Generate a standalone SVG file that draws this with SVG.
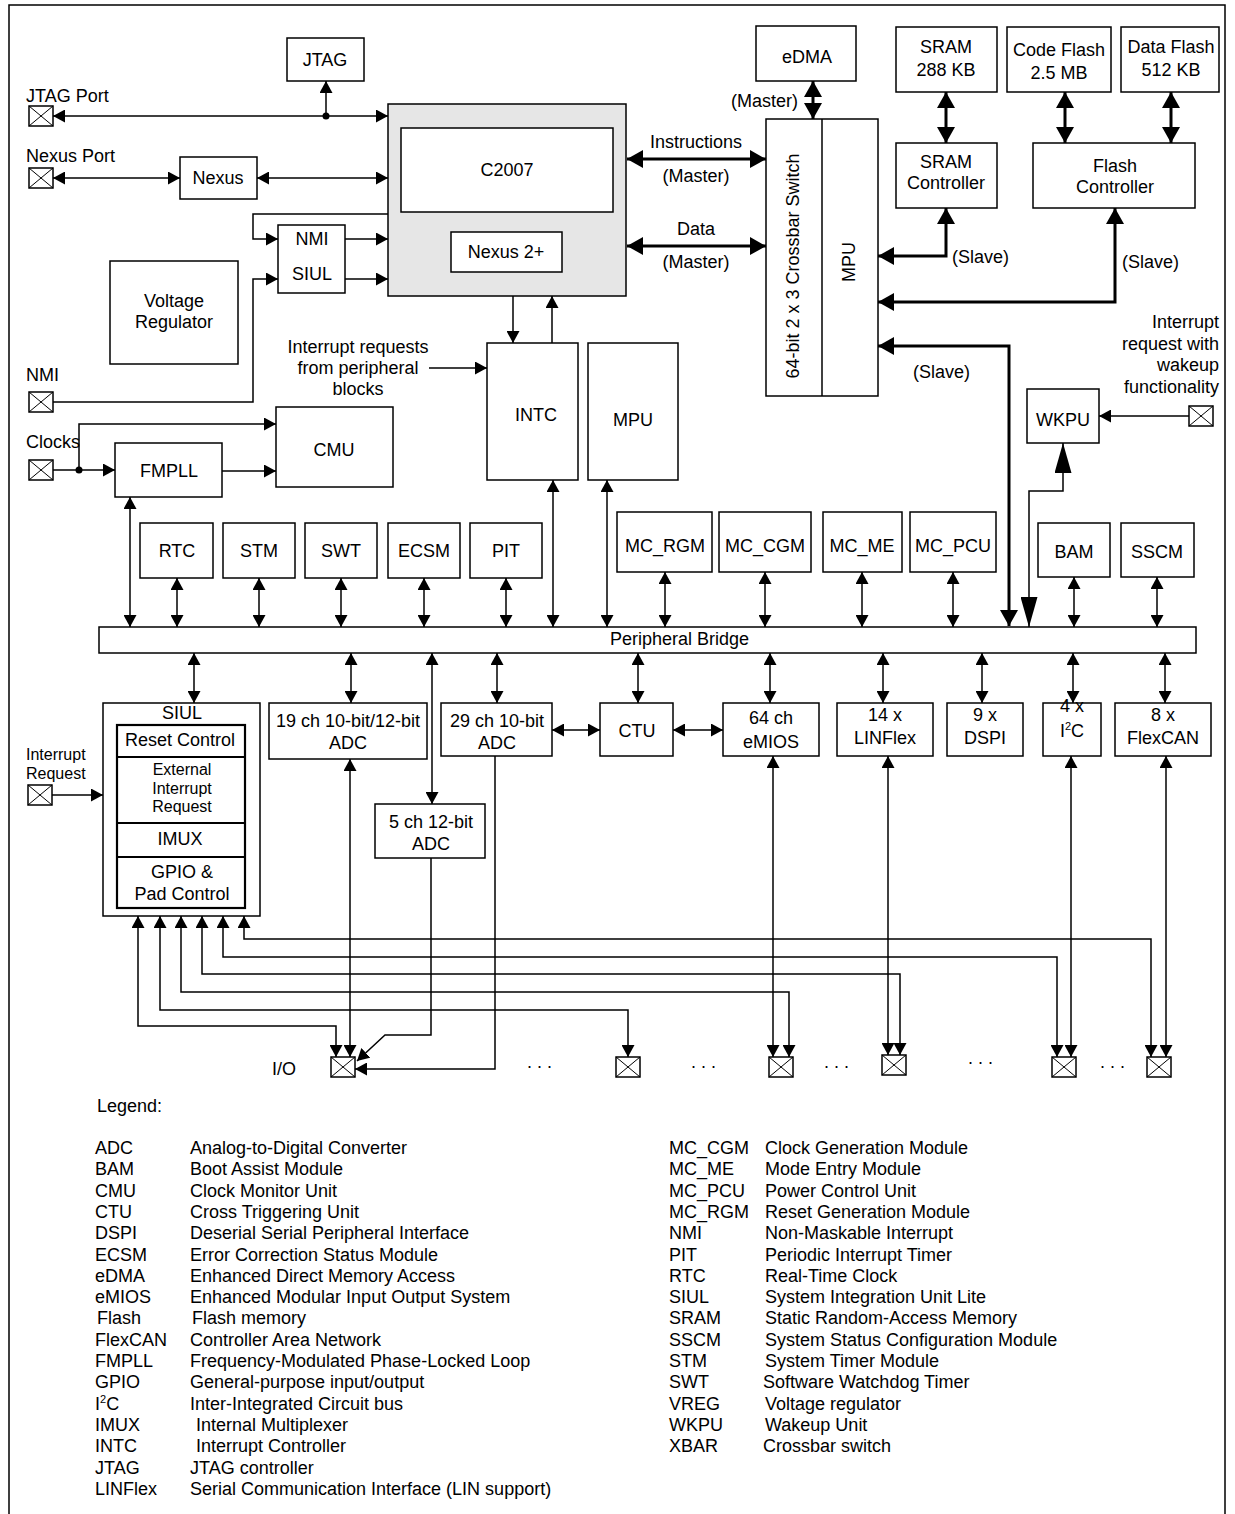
<svg xmlns="http://www.w3.org/2000/svg" xmlns:xlink="http://www.w3.org/1999/xlink" width="1235" height="1514" viewBox="0 0 1235 1514">
<style>
text{font-family:"Liberation Sans",Arial,sans-serif;font-size:18px;fill:#000}
.c{text-anchor:middle}
.e{text-anchor:end}
.sm{font-size:16px}
.box{fill:#fff;stroke:#000;stroke-width:1.5}
.core{fill:#e6e6e6;stroke:#000;stroke-width:1.5}
.ln{fill:none;stroke:#000;stroke-width:1.5}
.th{fill:none;stroke:#000;stroke-width:3}
.ab{marker-start:url(#a);marker-end:url(#a)}
.ae{marker-end:url(#a)}
.tb{marker-start:url(#t);marker-end:url(#t)}
.bb{marker-start:url(#b);marker-end:url(#b)}
</style>
<defs>
<marker id="a" viewBox="0 0 12 13" refX="12" refY="6.5" markerWidth="12" markerHeight="13" markerUnits="userSpaceOnUse" orient="auto-start-reverse"><path d="M0,0L12,6.5L0,13z"/></marker>
<marker id="t" viewBox="0 0 16 18" refX="16" refY="9" markerWidth="16" markerHeight="18" markerUnits="userSpaceOnUse" orient="auto-start-reverse"><path d="M0,0L16,9L0,18z"/></marker>
<marker id="b" viewBox="0 0 30 17" refX="30" refY="8.5" markerWidth="30" markerHeight="17" markerUnits="userSpaceOnUse" orient="auto-start-reverse"><path d="M0,0L30,8.5L0,17z"/></marker>
<g id="pin"><rect width="24" height="20" fill="#fff" stroke="#000" stroke-width="1.5"/><path d="M0,0L24,20M24,0L0,20" stroke="#000" stroke-width="1"/></g>
</defs>
<rect width="1235" height="1514" fill="#fff"/>
<path d="M9,1514V5H1225V1514" fill="none" stroke="#000" stroke-width="1.5"/>

<g id="connectors">
<path class="ln ab" d="M53,116H388"/>
<path class="ln ae" d="M326,116V81"/>
<circle cx="326" cy="116" r="3.5"/>
<path class="ln ab" d="M53,178H180"/>
<path class="ln ab" d="M257,178H388"/>
<path class="ln ae" d="M388,214H253V239H278"/>
<path class="ln ae" d="M53,402H253V279H278"/>
<path class="ln ae" d="M345,239H388"/>
<path class="ln ae" d="M345,279H388"/>
<path class="th tb" d="M627,159H766"/>
<path class="th tb" d="M627,246H766"/>
<path class="th tb" d="M813,81V119"/>
<path class="th tb" d="M946,92V143"/>
<path class="th tb" d="M1065,92V143"/>
<path class="th tb" d="M1171,92V143"/>
<path class="th tb" d="M946,208V256H878"/>
<path class="th tb" d="M1115,208V302H878"/>
<path class="th tb" d="M1009,626V346H878"/>
<path class="ln bb" d="M1029,627V491H1063V443"/>
<path class="ln ae" d="M1189,416H1099"/>
<path class="ln ae" d="M513,296V343"/>
<path class="ln ae" d="M552,343V296"/>
<path class="ln ae" d="M429,368H487"/>
<path class="ln ab" d="M553,480V627"/>
<path class="ln ab" d="M607,480V627"/>
<path class="ln ae" d="M53,470H115"/>
<circle cx="79" cy="470" r="3.5"/>
<path class="ln ae" d="M79,470V424H276"/>
<path class="ln ae" d="M222,471H276"/>
<path class="ln ab" d="M130,497V627"/>
<path class="ln ab" d="M177,578V627"/>
<path class="ln ab" d="M259,578V627"/>
<path class="ln ab" d="M341,578V627"/>
<path class="ln ab" d="M424,578V627"/>
<path class="ln ab" d="M506,578V627"/>
<path class="ln ab" d="M665,572V627"/>
<path class="ln ab" d="M765,572V627"/>
<path class="ln ab" d="M862,572V627"/>
<path class="ln ab" d="M953,572V627"/>
<path class="ln ab" d="M1074,577V627"/>
<path class="ln ab" d="M1157,577V627"/>
<path class="ln ab" d="M194,653V703"/>
<path class="ln ab" d="M351,653V703"/>
<path class="ln ab" d="M432,653V804"/>
<path class="ln ab" d="M497,653V703"/>
<path class="ln ab" d="M638,653V703"/>
<path class="ln ab" d="M770,653V703"/>
<path class="ln ab" d="M883,653V703"/>
<path class="ln ab" d="M982,653V703"/>
<path class="ln ab" d="M1073,653V703"/>
<path class="ln ab" d="M1165,653V703"/>
<path class="ln ab" d="M552,730H600"/>
<path class="ln ab" d="M673,730H723"/>
<path class="ln ae" d="M52,795H103"/>
<path class="ln ab" d="M138,916V1026H336V1057"/>
<path class="ln ab" d="M160,916V1010H628V1057"/>
<path class="ln ab" d="M181,916V992H789V1057"/>
<path class="ln ab" d="M202,916V974H900V1055"/>
<path class="ln ab" d="M223,916V957H1057V1057"/>
<path class="ln ab" d="M244,916V939H1151V1057"/>
<path class="ln ab" d="M350,759V1057"/>
<path class="ln ae" d="M431,858V1035H385L357,1061"/>
<path class="ln ae" d="M495,756V1069H355"/>
<path class="ln ab" d="M773,756V1057"/>
<path class="ln ab" d="M888,756V1055"/>
<path class="ln ab" d="M1071,756V1057"/>
<path class="ln ab" d="M1166,756V1057"/>
</g>

<g id="pins">
<g id="pin-jtag"><use xlink:href="#pin" x="29" y="106"/><text x="26" y="102">JTAG Port</text></g>
<g id="pin-nexus"><use xlink:href="#pin" x="29" y="168"/><text x="26" y="162">Nexus Port</text></g>
<g id="pin-nmi"><use xlink:href="#pin" x="29" y="392"/><text x="26" y="381">NMI</text></g>
<g id="pin-clocks"><use xlink:href="#pin" x="29" y="460"/><text x="26" y="448">Clocks</text></g>
<g id="pin-irq"><use xlink:href="#pin" x="28" y="785"/><text class="sm" x="26" y="760">Interrupt</text><text class="sm" x="26" y="778.5">Request</text></g>
<g id="pin-wkpu"><use xlink:href="#pin" x="1189" y="406"/><text class="e" x="1219" y="328">Interrupt</text><text class="e" x="1219" y="350">request with</text><text class="e" x="1219" y="371">wakeup</text><text class="e" x="1219" y="393">functionality</text></g>
<g id="pin-io"><use xlink:href="#pin" x="331" y="1057"/><text x="272" y="1075">I/O</text></g>
<g id="pin-2"><use xlink:href="#pin" x="616" y="1057"/></g>
<g id="pin-3"><use xlink:href="#pin" x="769" y="1057"/></g>
<g id="pin-4"><use xlink:href="#pin" x="882" y="1055"/></g>
<g id="pin-5"><use xlink:href="#pin" x="1052" y="1057"/></g>
<g id="pin-6"><use xlink:href="#pin" x="1147" y="1057"/></g>
<g id="dots" letter-spacing="5">
<text class="c" x="542" y="1068">...</text>
<text class="c" x="706" y="1068">...</text>
<text class="c" x="839" y="1068">...</text>
<text class="c" x="983" y="1064">...</text>
<text class="c" x="1115" y="1068">...</text>
</g>
</g>

<g id="labels">
<text class="c" x="696" y="148">Instructions</text>
<text class="c" x="696" y="182">(Master)</text>
<text class="c" x="696" y="235">Data</text>
<text class="c" x="696" y="268">(Master)</text>
<text class="e" x="798" y="107">(Master)</text>
<text x="952" y="263">(Slave)</text>
<text x="1122" y="268">(Slave)</text>
<text x="913" y="378">(Slave)</text>
<text class="c" x="358" y="353">Interrupt requests</text>
<text class="c" x="358" y="374">from peripheral</text>
<text class="c" x="358" y="395">blocks</text>
</g>

<g id="jtag"><rect class="box" x="287" y="38" width="77" height="43"/><text class="c" x="325" y="66">JTAG</text></g>
<g id="nexus"><rect class="box" x="180" y="157" width="77" height="42"/><text class="c" x="218" y="184">Nexus</text></g>
<g id="core"><rect class="core" x="388" y="104" width="238" height="192"/>
<g id="c2007"><rect class="box" x="401" y="128" width="212" height="84"/><text class="c" x="507" y="176">C2007</text></g>
<g id="nexus2"><rect class="box" x="451" y="232" width="111" height="40"/><text class="c" x="506" y="258">Nexus 2+</text></g></g>
<g id="nmi-siul"><rect class="box" x="278" y="225" width="67" height="68"/><text class="c" x="312" y="245">NMI</text><text class="c" x="312" y="280">SIUL</text></g>
<g id="vreg"><rect class="box" x="110" y="261" width="128" height="103"/><text class="c" x="174" y="307">Voltage</text><text class="c" x="174" y="328">Regulator</text></g>
<g id="intc"><rect class="box" x="487" y="343" width="91" height="137"/><text class="c" x="536" y="421">INTC</text></g>
<g id="mpu"><rect class="box" x="588" y="343" width="90" height="137"/><text class="c" x="633" y="426">MPU</text></g>
<g id="cmu"><rect class="box" x="276" y="407" width="117" height="80"/><text class="c" x="334" y="456">CMU</text></g>
<g id="fmpll"><rect class="box" x="115" y="443" width="107" height="54"/><text class="c" x="169" y="477">FMPLL</text></g>
<g id="xbar"><rect class="box" x="766" y="119" width="112" height="277"/><path class="ln" d="M822,119V396"/>
<text class="c" transform="translate(799,266) rotate(-90)">64-bit 2 x 3 Crossbar Switch</text>
<text class="c" transform="translate(855,262) rotate(-90)">MPU</text></g>
<g id="edma"><rect class="box" x="756" y="26" width="100" height="55"/><text class="c" x="807" y="63">eDMA</text></g>
<g id="sram"><rect class="box" x="896" y="27" width="101" height="65"/><text class="c" x="946" y="53">SRAM</text><text class="c" x="946" y="76">288 KB</text></g>
<g id="codeflash"><rect class="box" x="1007" y="27" width="104" height="65"/><text class="c" x="1059" y="56">Code Flash</text><text class="c" x="1059" y="79">2.5 MB</text></g>
<g id="dataflash"><rect class="box" x="1121" y="27" width="98" height="65"/><text class="c" x="1171" y="53">Data Flash</text><text class="c" x="1171" y="76">512 KB</text></g>
<g id="sramctl"><rect class="box" x="896" y="143" width="101" height="65"/><text class="c" x="946" y="168">SRAM</text><text class="c" x="946" y="189">Controller</text></g>
<g id="flashctl"><rect class="box" x="1033" y="143" width="162" height="65"/><text class="c" x="1115" y="172">Flash</text><text class="c" x="1115" y="193">Controller</text></g>
<g id="wkpu"><rect class="box" x="1027" y="389" width="72" height="54"/><text class="c" x="1063" y="426">WKPU</text></g>

<g id="rtc"><rect class="box" x="140" y="523" width="73" height="55"/><text class="c" x="177" y="557">RTC</text></g>
<g id="stm"><rect class="box" x="223" y="523" width="72" height="55"/><text class="c" x="259" y="557">STM</text></g>
<g id="swt"><rect class="box" x="305" y="523" width="72" height="55"/><text class="c" x="341" y="557">SWT</text></g>
<g id="ecsm"><rect class="box" x="388" y="523" width="72" height="55"/><text class="c" x="424" y="557">ECSM</text></g>
<g id="pit"><rect class="box" x="470" y="523" width="72" height="55"/><text class="c" x="506" y="557">PIT</text></g>
<g id="mc_rgm"><rect class="box" x="617" y="512" width="95" height="60"/><text class="c" x="665" y="552">MC_RGM</text></g>
<g id="mc_cgm"><rect class="box" x="719" y="512" width="92" height="60"/><text class="c" x="765" y="552">MC_CGM</text></g>
<g id="mc_me"><rect class="box" x="823" y="512" width="79" height="60"/><text class="c" x="862" y="552">MC_ME</text></g>
<g id="mc_pcu"><rect class="box" x="910" y="512" width="86" height="60"/><text class="c" x="953" y="552">MC_PCU</text></g>
<g id="bam"><rect class="box" x="1038" y="523" width="72" height="54"/><text class="c" x="1074" y="558">BAM</text></g>
<g id="sscm"><rect class="box" x="1121" y="523" width="73" height="54"/><text class="c" x="1157" y="558">SSCM</text></g>
<g id="bridge"><rect class="box" x="99" y="627" width="1097" height="26"/><text x="610" y="645">Peripheral Bridge</text></g>

<g id="siul"><rect class="box" x="103" y="703" width="157" height="213"/><text class="c" x="182" y="719">SIUL</text>
<rect x="117" y="725" width="128" height="183" fill="#fff" stroke="#000" stroke-width="2.2"/>
<path d="M117,757H245M117,823H245M117,857H245" stroke="#000" stroke-width="2.2"/>
<text class="c" x="180" y="746">Reset Control</text>
<text class="c sm" x="182" y="775">External</text><text class="c sm" x="182" y="793.5">Interrupt</text><text class="c sm" x="182" y="812">Request</text>
<text class="c" x="180" y="845">IMUX</text>
<text class="c" x="182" y="878">GPIO &amp;</text><text class="c" x="182" y="900">Pad Control</text></g>
<g id="adc19"><rect class="box" x="269" y="703" width="158" height="56"/><text class="c" x="348" y="727">19 ch 10-bit/12-bit</text><text class="c" x="348" y="749">ADC</text></g>
<g id="adc29"><rect class="box" x="441" y="703" width="111" height="53"/><text class="c" x="497" y="727">29 ch 10-bit</text><text class="c" x="497" y="749">ADC</text></g>
<g id="adc5"><rect class="box" x="375" y="804" width="110" height="54"/><text class="c" x="431" y="828">5 ch 12-bit</text><text class="c" x="431" y="850">ADC</text></g>
<g id="ctu"><rect class="box" x="600" y="703" width="73" height="53"/><text class="c" x="637" y="737">CTU</text></g>
<g id="emios"><rect class="box" x="723" y="703" width="96" height="53"/><text class="c" x="771" y="724">64 ch</text><text class="c" x="771" y="748">eMIOS</text></g>
<g id="linflex"><rect class="box" x="837" y="703" width="96" height="53"/><text class="c" x="885" y="721">14 x</text><text class="c" x="885" y="744">LINFlex</text></g>
<g id="dspi"><rect class="box" x="947" y="703" width="76" height="53"/><text class="c" x="985" y="721">9 x</text><text class="c" x="985" y="744">DSPI</text></g>
<g id="i2c"><rect class="box" x="1043" y="703" width="58" height="53"/><text class="c" x="1072" y="712">4 x</text><text class="c" x="1072" y="737">I<tspan dy="-7" font-size="11">2</tspan><tspan dy="7">C</tspan></text></g>
<g id="flexcan"><rect class="box" x="1115" y="703" width="96" height="53"/><text class="c" x="1163" y="721">8 x</text><text class="c" x="1163" y="744">FlexCAN</text></g>

<g id="legend">
<text x="97" y="1112">Legend:</text>
<text x="95" y="1154">ADC</text><text x="190" y="1154">Analog-to-Digital Converter</text>
<text x="95" y="1175.3">BAM</text><text x="190" y="1175.3">Boot Assist Module</text>
<text x="95" y="1196.6">CMU</text><text x="190" y="1196.6">Clock Monitor Unit</text>
<text x="95" y="1217.9">CTU</text><text x="190" y="1217.9">Cross Triggering Unit</text>
<text x="95" y="1239.2">DSPI</text><text x="190" y="1239.2">Deserial Serial Peripheral Interface</text>
<text x="95" y="1260.5">ECSM</text><text x="190" y="1260.5">Error Correction Status Module</text>
<text x="95" y="1281.8">eDMA</text><text x="190" y="1281.8">Enhanced Direct Memory Access</text>
<text x="95" y="1303.1">eMIOS</text><text x="190" y="1303.1">Enhanced Modular Input Output System</text>
<text x="97" y="1324.4">Flash</text><text x="192" y="1324.4">Flash memory</text>
<text x="95" y="1345.7">FlexCAN</text><text x="190" y="1345.7">Controller Area Network</text>
<text x="95" y="1367">FMPLL</text><text x="190" y="1367">Frequency-Modulated Phase-Locked Loop</text>
<text x="95" y="1388.3">GPIO</text><text x="190" y="1388.3">General-purpose input/output</text>
<text x="95" y="1409.6">I<tspan dy="-7" font-size="11">2</tspan><tspan dy="7">C</tspan></text><text x="190" y="1409.6">Inter-Integrated Circuit bus</text>
<text x="95" y="1430.9">IMUX</text><text x="196" y="1430.9">Internal Multiplexer</text>
<text x="95" y="1452.2">INTC</text><text x="196" y="1452.2">Interrupt Controller</text>
<text x="95" y="1473.5">JTAG</text><text x="190" y="1473.5">JTAG controller</text>
<text x="95" y="1494.8">LINFlex</text><text x="190" y="1494.8">Serial Communication Interface (LIN support)</text>
<text x="669" y="1154">MC_CGM</text><text x="765" y="1154">Clock Generation Module</text>
<text x="669" y="1175.3">MC_ME</text><text x="765" y="1175.3">Mode Entry Module</text>
<text x="669" y="1196.6">MC_PCU</text><text x="765" y="1196.6">Power Control Unit</text>
<text x="669" y="1217.9">MC_RGM</text><text x="765" y="1217.9">Reset Generation Module</text>
<text x="669" y="1239.2">NMI</text><text x="765" y="1239.2">Non-Maskable Interrupt</text>
<text x="669" y="1260.5">PIT</text><text x="765" y="1260.5">Periodic Interrupt Timer</text>
<text x="669" y="1281.8">RTC</text><text x="765" y="1281.8">Real-Time Clock</text>
<text x="669" y="1303.1">SIUL</text><text x="765" y="1303.1">System Integration Unit Lite</text>
<text x="669" y="1324.4">SRAM</text><text x="765" y="1324.4">Static Random-Access Memory</text>
<text x="669" y="1345.7">SSCM</text><text x="765" y="1345.7">System Status Configuration Module</text>
<text x="669" y="1367">STM</text><text x="765" y="1367">System Timer Module</text>
<text x="669" y="1388.3">SWT</text><text x="763" y="1388.3">Software Watchdog Timer</text>
<text x="669" y="1409.6">VREG</text><text x="765" y="1409.6">Voltage regulator</text>
<text x="669" y="1430.9">WKPU</text><text x="765" y="1430.9">Wakeup Unit</text>
<text x="669" y="1452.2">XBAR</text><text x="763" y="1452.2">Crossbar switch</text>
</g>
</svg>
